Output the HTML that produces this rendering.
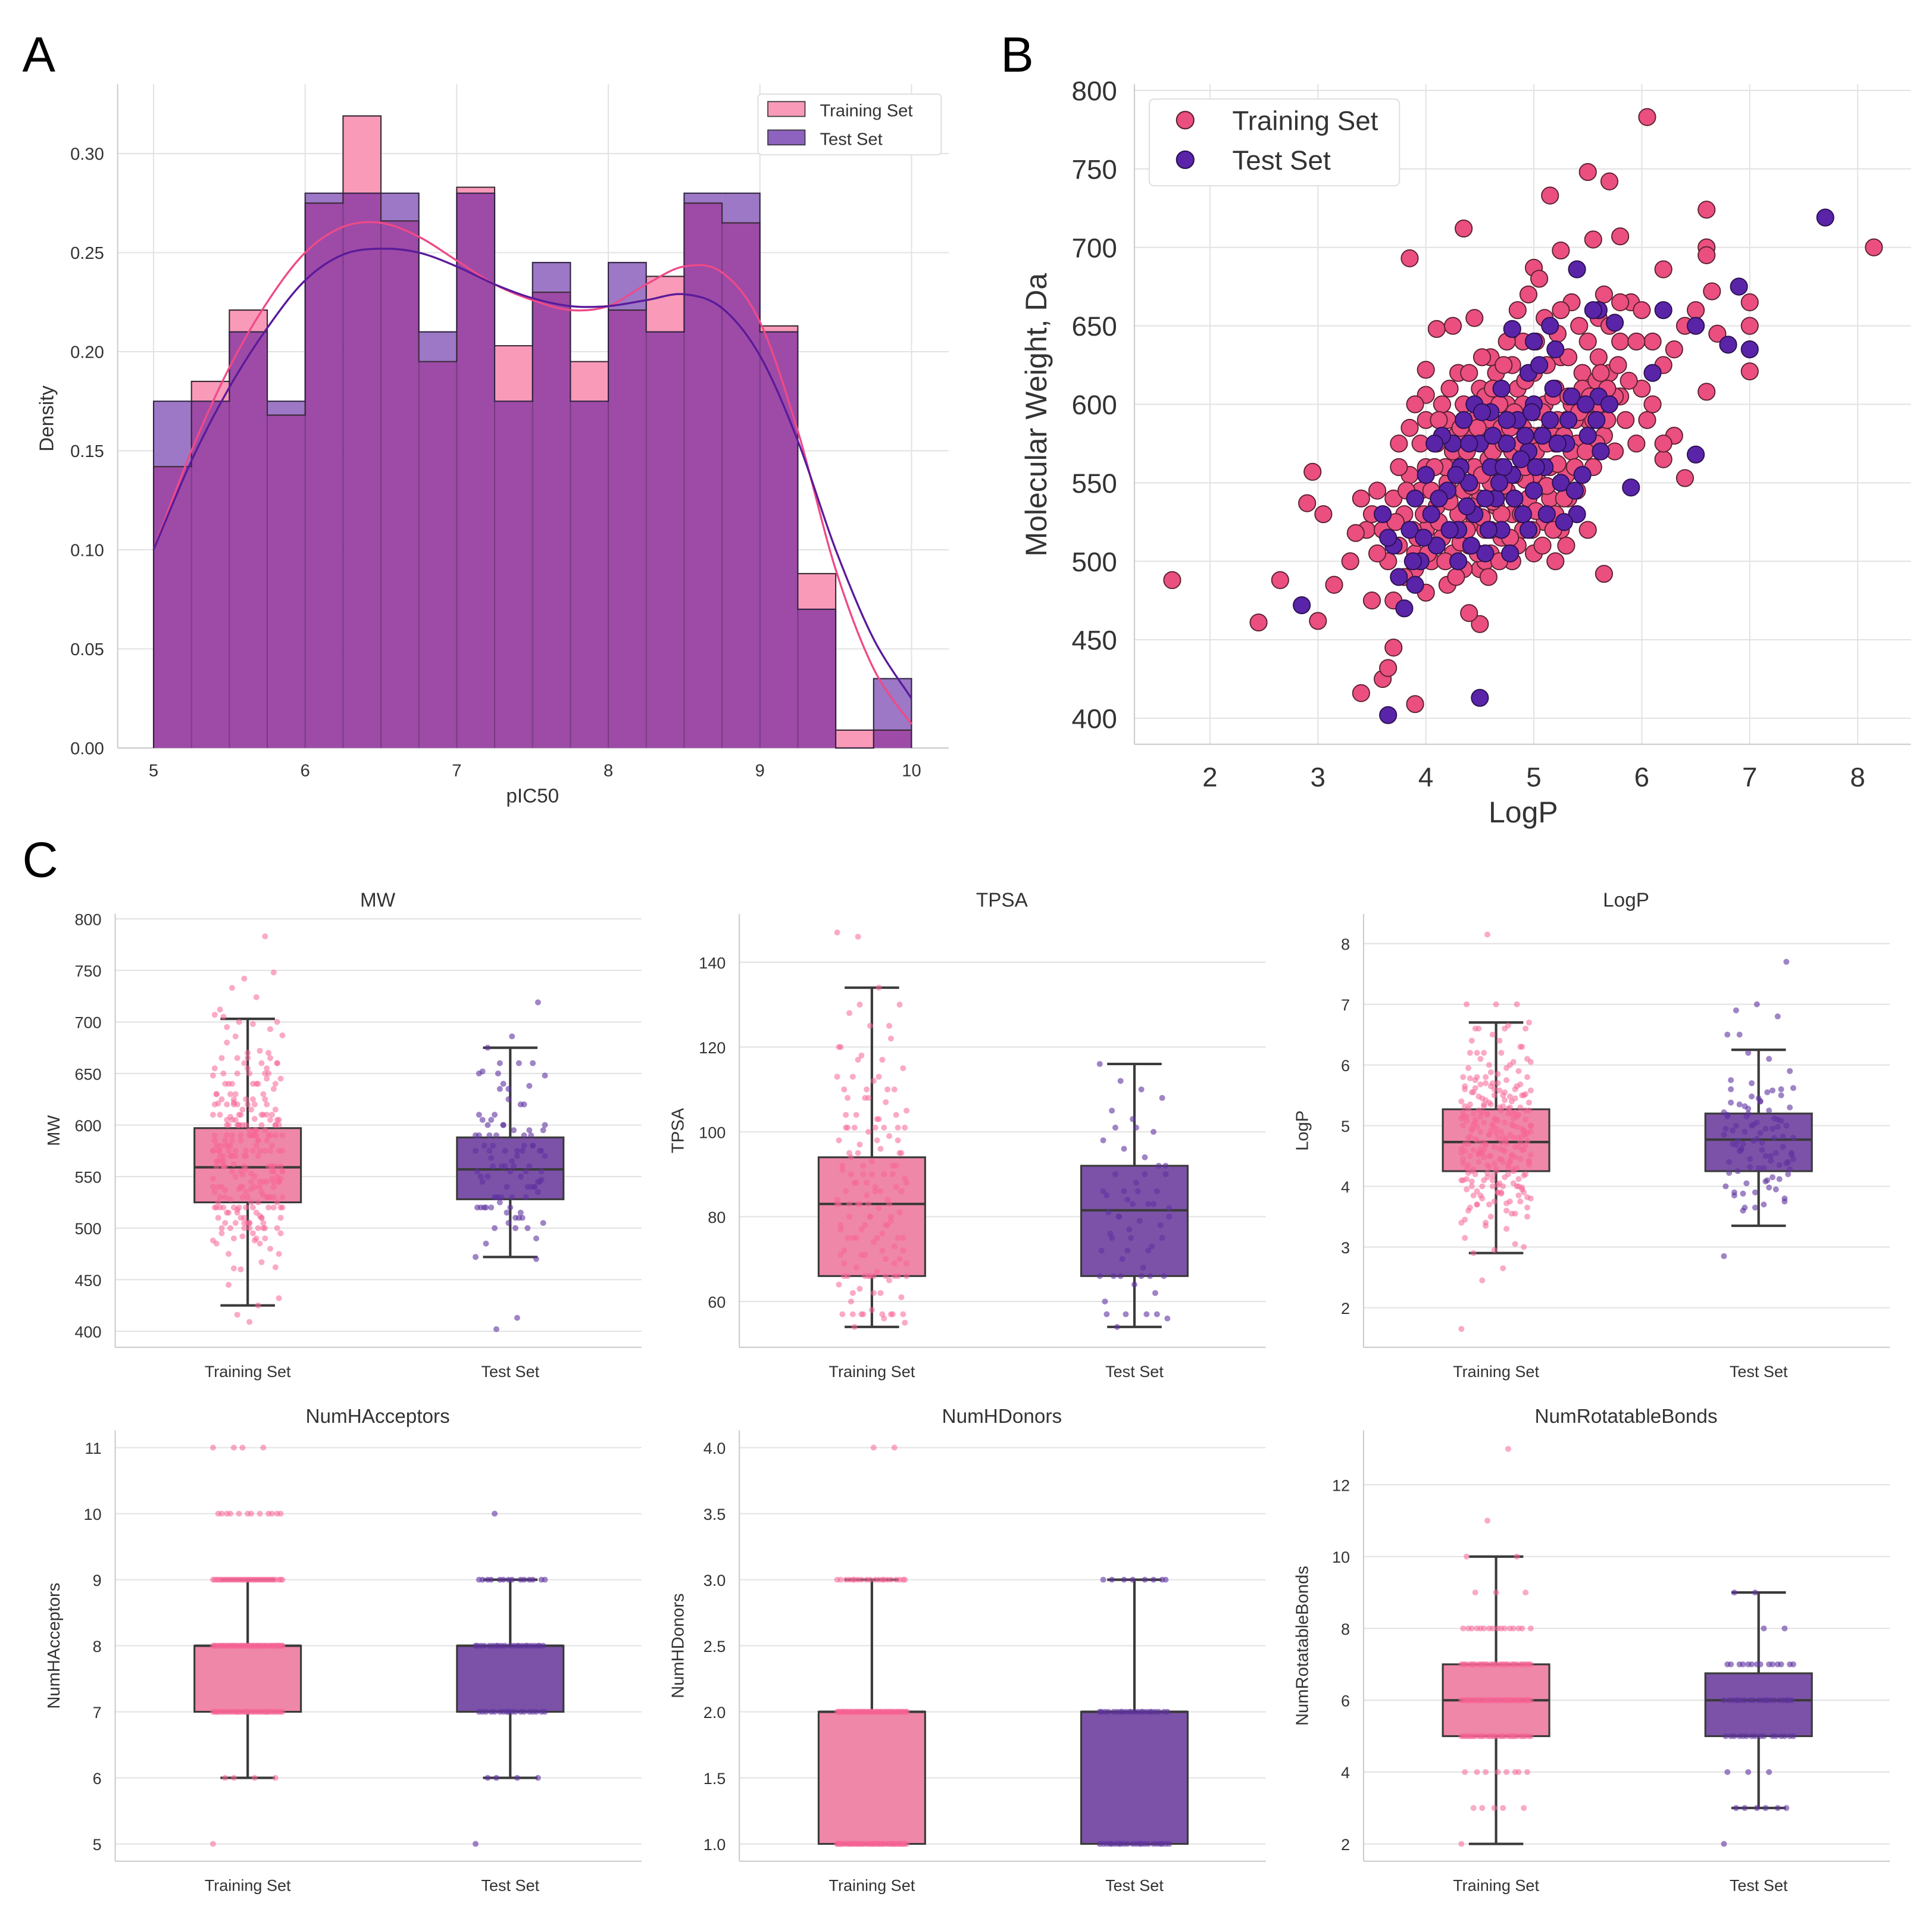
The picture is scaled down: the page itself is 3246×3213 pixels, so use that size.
<!DOCTYPE html>
<html><head><meta charset="utf-8">
<style>
html,body{margin:0;padding:0;background:#fff;}
svg{display:block;font-family:"Liberation Sans","DejaVu Sans",sans-serif;}
</style></head>
<body>
<svg id="fig" xmlns="http://www.w3.org/2000/svg" width="3246" height="3213" viewBox="0 0 1560 1544" preserveAspectRatio="none">
<rect x="0" y="0" width="1560" height="1544" fill="#fff"/>
<text x="18" y="58" font-size="40" fill="#000">A</text>
<text x="808" y="58" font-size="40" fill="#000">B</text>
<text x="18" y="708" font-size="40" fill="#000">C</text>
<g id="layer"></g>
</svg>
<script>
// ---------- Panel A data ----------
const binEdgesA = [5,5.25,5.5,5.75,6,6.25,6.5,6.75,7,7.25,7.5,7.75,8,8.25,8.5,8.75,9,9.25,9.5,9.75,10];
const trainDensity = [0.142,0.185,0.221,0.168,0.275,0.319,0.266,0.195,0.283,0.203,0.230,0.195,0.221,0.238,0.275,0.265,0.213,0.088,0.009,0.009];
const testDensity  = [0.175,0.175,0.210,0.175,0.280,0.280,0.280,0.210,0.280,0.175,0.245,0.175,0.245,0.210,0.280,0.280,0.210,0.070,0.000,0.035];
const kdeX = [5,5.25,5.5,5.75,6,6.25,6.5,6.75,7,7.25,7.5,7.75,8,8.25,8.5,8.75,9,9.25,9.5,9.75,10];
const kdeTrain = [0.100,0.150,0.192,0.225,0.250,0.263,0.265,0.258,0.246,0.234,0.226,0.221,0.223,0.234,0.243,0.240,0.215,0.160,0.090,0.040,0.012];
const kdeTest  = [0.100,0.145,0.182,0.212,0.236,0.249,0.252,0.250,0.243,0.234,0.227,0.223,0.223,0.226,0.229,0.222,0.198,0.155,0.100,0.055,0.025];
const ticksAx = [5,6,7,8,9,10];
const ticksAy = [0,0.05,0.10,0.15,0.20,0.25,0.30];

// ---------- Panel B data (LogP, MW) ----------
const trainPts = [[1.65,488],[2.45,461],[2.65,488],[3.0,462],[2.9,537],[2.95,557],[3.05,530],[3.15,485],[3.4,416],[3.6,425],[3.65,432],[3.7,445],[3.9,409],[3.85,693],[4.35,712],[4.5,460],[4.4,467],[5.0,687],[5.15,733],[5.25,698],[5.5,748],[5.55,705],[5.7,742],[6.05,783],[5.8,707],[6.2,686],[6.6,724],[6.6,700],[6.6,695],[7.0,665],[7.0,650],[7.0,621],[8.15,700],[6.65,672],[6.7,645],[6.6,608],[6.4,553],[6.3,580],[6.2,565],[5.65,492],[5.2,500],[4.1,648],[4.0,622],[4.0,606],[3.9,600],[3.85,585],[3.75,575],[3.55,545],[3.45,520],[3.35,518],[3.3,500],[3.5,475],[3.7,475],[3.9,505],[4.0,480],
[3.6,520],[3.7,540],[3.75,510],[3.8,530],[3.85,555],[3.9,495],[3.95,545],[4.0,520],[4.0,560],[4.05,500],[4.1,535],[4.1,575],[4.15,515],[4.2,550],[4.2,590],[4.25,505],[4.3,530],[4.3,565],[4.35,600],[4.35,545],[4.4,510],[4.4,580],[4.45,525],[4.45,560],[4.5,495],[4.5,540],[4.5,610],[4.55,575],[4.55,520],[4.6,550],[4.6,590],[4.6,505],[4.65,535],[4.65,620],[4.7,560],[4.7,515],[4.7,585],[4.75,545],[4.75,600],[4.8,500],[4.8,530],[4.8,570],[4.85,555],[4.85,610],[4.9,520],[4.9,585],[4.9,640],[4.95,540],[4.95,565],[5.0,505],[5.0,595],[5.0,620],[5.05,550],[5.05,580],[5.1,525],[5.1,600],[5.1,655],[5.15,560],[5.15,540],[5.2,610],[5.2,575],[5.25,520],[5.25,630],[5.3,590],[5.3,555],[5.35,665],[5.35,600],[5.4,545],[5.4,575],[5.45,620],[5.5,590],[5.5,640],[5.55,560],[5.6,600],[5.6,655],[5.65,580],[5.7,620],[5.75,570],[5.8,605],[5.8,640],[5.85,590],[5.9,665],[5.95,575],[6.0,610],[6.0,660],[6.05,590],[6.1,640],[6.2,625],[6.3,635],[6.4,650],[6.5,660],[4.25,650],[4.45,655],[4.6,630],[4.75,640],[4.85,660],[5.05,680],[4.3,620],[4.0,590],[3.95,575],[4.15,600],[4.2,485],[4.35,495],[4.55,500],[4.05,545],[3.75,560],[3.65,500],[3.5,530],[3.55,505],[3.4,540],[3.8,490],[4.4,620],[4.9,600],[5.2,530],[5.5,520],[5.45,610],[5.6,630],[5.8,665],[5.95,640],[6.1,600],[6.2,575],[5.7,650],[4.65,575],[4.7,530],[4.85,510],[5.3,510],[5.0,555],[4.55,605],[4.45,590],[4.6,520],[4.25,570],[4.1,510],[4.8,625],[5.15,585],[5.35,570],[5.55,590],[5.25,660],[5.75,605],[4.95,670],[5.65,670],
[4.12,525],[4.22,538],[4.32,512],[4.42,548],[4.52,528],[4.62,538],[4.72,548],[4.82,540],[4.92,552],[5.02,532],[5.12,548],[5.22,562],[5.32,540],[4.18,560],[4.28,580],[4.38,570],[4.48,585],[4.58,565],[4.68,600],[4.78,585],[4.88,575],[4.98,580],[5.08,595],[5.18,605],[5.28,580],[5.38,590],[5.48,600],[5.58,575],[5.68,590],[3.88,520],[3.98,530],[4.08,560],[4.18,500],[4.28,490],[4.38,520],[4.48,505],[4.58,490],[4.68,500],[4.78,515],[4.88,530],[4.98,520],[5.08,510],[5.18,520],[5.28,540],[5.38,560],[5.48,570],[5.58,615],[5.68,610],[5.78,625],[5.88,615],[4.52,630],[4.62,610],[4.72,625],[4.82,595],[4.92,615],[5.02,640],[5.12,625],[5.22,645],[5.32,630],[5.42,650],[3.72,525],[3.82,545],[3.92,515],[4.02,505],[4.12,590],[4.22,610],[4.32,585],[4.42,535],[4.52,555],[4.62,570],[4.72,575],[4.82,555],[4.92,560],[5.02,570],[5.12,575],[5.22,590],[5.32,605],[5.42,595],[5.52,605],[5.62,620]];
const testPts = [[2.85,472],[3.65,402],[4.5,413],[7.7,719],[6.9,675],[7.0,635],[6.8,638],[6.5,650],[6.2,660],[6.1,620],[5.9,547],[6.5,568],[5.4,686],[5.6,660],[5.75,652],[5.0,640],[4.95,620],[4.8,648],
[3.6,530],[3.7,510],[3.75,490],[3.85,520],[3.9,540],[3.95,500],[4.0,555],[4.05,530],[4.1,510],[4.2,545],[4.25,575],[4.3,520],[4.35,590],[4.4,550],[4.45,530],[4.5,575],[4.55,505],[4.6,560],[4.6,595],[4.65,540],[4.7,520],[4.75,575],[4.8,555],[4.85,590],[4.9,530],[4.95,570],[5.0,545],[5.0,600],[5.05,625],[5.1,560],[5.15,590],[5.2,635],[5.25,550],[5.3,575],[5.35,605],[5.4,530],[5.5,580],[5.6,605],[5.7,600],[4.15,580],[4.45,600],[4.7,610],[4.3,500],[3.8,470],[3.9,485],[3.65,515],[4.55,540],[4.95,520],[5.15,650],[5.55,660],[4.4,575],[4.75,590],[5.45,555],
[4.12,540],[4.22,520],[4.32,560],[4.42,510],[4.52,595],[4.62,580],[4.72,560],[4.82,540],[4.92,580],[5.02,560],[5.12,530],[5.22,575],[5.32,590],[4.08,575],[4.38,535],[4.68,550],[4.78,505],[4.98,595],[5.18,610],[5.28,525],[3.98,515],[4.28,555],[4.58,520],[4.88,565],[5.08,580],[5.38,545],[5.48,600],[5.58,590],[5.62,570],[3.88,500]];
const ticksBx = [2,3,4,5,6,7,8];
const ticksBy = [400,450,500,550,600,650,700,750,800];

// ---------- Panel C data ----------
const boxCategories = ["Training Set","Test Set"];
// [whiskerLow, q1, median, q3, whiskerHigh]
const statsMW = [[425,525,559,597,703],[472,528,557,588,675]];
const statsTPSA = [[54,66,83,94,134],[54,66,81.5,92,116]];
const statsLogP = [[2.9,4.25,4.73,5.27,6.7],[3.35,4.25,4.77,5.2,6.25]];
const statsHAcc = [[6,7,8,8,9],[6,7,8,8,9]];
const statsHDon = [[1,1,2,2,3],[1,1,2,2,3]];
const statsRotB = [[2,5,6,7,10],[3,5,6,6.75,9]];
const tpsaTrain = [147,146,134,130,128,125,122,120,118,117,115,113,112,110,110,108,107,105,104,103,101,101,100,99,98,97,96,95,94,93,92,91,90,90,89,88,87,87,86,85,84,83,83,82,81,80,80,79,78,77,76,75,75,74,73,72,71,70,69,68,67,66,66,66,65,64,63,62,61,60,58,57,57,57,56,55,54,86,92,101,88,78,84,95,103,70,83,66,57,77,
57,57,57,57,66,66,66,66,66,66,75,75,75,75,83,83,83,83,86,86,90,90,90,92,92,101,101,101,101,104,104,110,110,113,117,113,95,95,80,80,71,71,72,72,62,62,69,69,78,78,88,88,98,98,108,108,125,120,130];
const tpsaTest = [116,112,110,108,105,103,100,98,96,94,92,90,88,86,85,84,83,82,80,79,78,76,75,73,72,70,68,66,66,64,62,60,57,57,56,54,86,92,81,77,
66,66,66,66,75,75,83,83,86,86,90,90,101,101,57,57,72,72,80,80];
const haccValues = [5,6,7,8,9,10,11];
const haccTrainCounts = [1,4,45,60,40,12,4];
const haccTestCounts = [1,4,18,22,14,1,0];
const hdonValues = [1,2,3,4];
const hdonTrainCounts = [55,60,20,2];
const hdonTestCounts = [22,22,8,0];
const rotbValues = [2,3,4,5,6,7,8,9,10,11,13];
const rotbTrainCounts = [1,5,8,35,50,35,16,3,2,1,1];
const rotbTestCounts = [1,6,3,16,20,14,2,2,0,0,0];

// ---------- helpers ----------
const NS = "http://www.w3.org/2000/svg";
const layer = document.getElementById("layer");
function mk(tag, attrs, name, parent) {
  const el = document.createElementNS(NS, tag);
  for (const k in attrs) el.setAttribute(k, attrs[k]);
  
  
  (parent || layer).appendChild(el);
  return el;
}
function txt(x, y, s, size, name, opts) {
  const o = Object.assign({x: x, y: y, "font-size": size, fill: "#333", "text-anchor": "middle"}, opts || {});
  const t = mk("text", o, name);
  t.textContent = s;
  return t;
}
function scale(d0, d1, r0, r1) { return v => r0 + (v - d0) * (r1 - r0) / (d1 - d0); }
function smoothPath(pts) {
  let d = "M" + pts[0][0] + "," + pts[0][1];
  for (let i = 0; i < pts.length - 1; i++) {
    const p0 = pts[Math.max(0, i - 1)], p1 = pts[i], p2 = pts[i + 1], p3 = pts[Math.min(pts.length - 1, i + 2)];
    const c1x = p1[0] + (p2[0] - p0[0]) / 6, c1y = p1[1] + (p2[1] - p0[1]) / 6;
    const c2x = p2[0] - (p3[0] - p1[0]) / 6, c2y = p2[1] - (p3[1] - p1[1]) / 6;
    d += " C" + c1x + "," + c1y + " " + c2x + "," + c2y + " " + p2[0] + "," + p2[1];
  }
  return d;
}
function jit(i) { return ((i * 53) % 41) / 40 - 0.5; }

// ---------- Panel A ----------
(function () {
  const X = scale(5, 10, 124, 736), Y = scale(0, 0.30, 604, 124);
  const L = 95, R = 766, T = 68, B = 604;
  ticksAx.forEach(v => {
    mk("line", {x1: X(v), x2: X(v), y1: T, y2: B, stroke: "#e3e3e3", "stroke-width": 1}, "a-x-gridline");
    txt(X(v), 627, String(v), 14, "a-x-tick-label");
  });
  ticksAy.forEach(v => {
    mk("line", {x1: L, x2: R, y1: Y(v), y2: Y(v), stroke: "#e3e3e3", "stroke-width": 1}, "a-y-gridline");
    txt(84, Y(v) + 5, v.toFixed(2), 14, "a-y-tick-label", {"text-anchor": "end"});
  });
  mk("line", {x1: L, x2: L, y1: T, y2: B, stroke: "#ccc", "stroke-width": 1}, "a-y-axis-line");
  mk("line", {x1: L, x2: R, y1: B, y2: B, stroke: "#ccc", "stroke-width": 1}, "a-x-axis-line");
  for (let i = 0; i < trainDensity.length; i++) {
    const x0 = X(binEdgesA[i]), x1 = X(binEdgesA[i + 1]);
    const a = trainDensity[i], b = testDensity[i];
    const lo = Math.min(a, b), hi = Math.max(a, b);
    mk("rect", {x: x0, y: Y(lo), width: x1 - x0, height: Y(0) - Y(lo), fill: "#9d4ba6"}, "a-bar-overlap");
    if (hi > lo) mk("rect", {x: x0, y: Y(hi), width: x1 - x0, height: Y(lo) - Y(hi), fill: a > b ? "#f89ab8" : "#9c78c6"}, a > b ? "a-bar-training" : "a-bar-test");
  }
  function stepPath(vals) {
    let d = "M" + X(binEdgesA[0]) + "," + Y(0);
    vals.forEach((v, i) => { d += " L" + X(binEdgesA[i]) + "," + Y(v) + " L" + X(binEdgesA[i + 1]) + "," + Y(v); });
    d += " L" + X(binEdgesA[binEdgesA.length - 1]) + "," + Y(0);
    return d;
  }
  mk("path", {d: stepPath(trainDensity), fill: "none", stroke: "#3a2a35", "stroke-width": 1}, "a-training-outline");
  mk("path", {d: stepPath(testDensity), fill: "none", stroke: "#2e2340", "stroke-width": 1}, "a-test-outline");
  for (let i = 0; i < trainDensity.length; i++) {
    const x = X(binEdgesA[i]);
    mk("line", {x1: x, x2: x, y1: Y(0), y2: Y(Math.min(trainDensity[i], testDensity[i], i > 0 ? Math.max(trainDensity[i - 1], testDensity[i - 1]) : 1))}, "a-bin-divider").setAttribute("stroke", "rgba(50,20,60,0.35)");
  }
  mk("path", {d: smoothPath(kdeX.map((v, i) => [X(v), Y(kdeTrain[i])])), fill: "none", stroke: "#ee4a88", "stroke-width": 1.6}, "a-kde-training");
  mk("path", {d: smoothPath(kdeX.map((v, i) => [X(v), Y(kdeTest[i])])), fill: "none", stroke: "#5a1a9a", "stroke-width": 1.6}, "a-kde-test");
  txt(430, 648, "pIC50", 16, "a-x-axis-title");
  txt(43, 338, "Density", 16, "a-y-axis-title", {transform: "rotate(-90 43 338)"});
  mk("rect", {x: 612, y: 76, width: 148, height: 49, fill: "#fff", stroke: "#e0e0e0", rx: 3}, "a-legend");
  mk("rect", {x: 620, y: 82, width: 30, height: 12, fill: "#f89ab8", stroke: "#333", "stroke-width": 0.8}, "a-legend-swatch-training");
  mk("rect", {x: 620, y: 105, width: 30, height: 12, fill: "#8d63bf", stroke: "#333", "stroke-width": 0.8}, "a-legend-swatch-test");
  txt(662, 94, "Training Set", 14, "a-legend-label-training", {"text-anchor": "start"});
  txt(662, 117, "Test Set", 14, "a-legend-label-test", {"text-anchor": "start"});
})();

// ---------- Panel B ----------
(function () {
  const X = scale(2, 8, 977, 1500), Y = scale(400, 800, 580, 73);
  const L = 916, R = 1543, T = 68, B = 601;
  ticksBx.forEach(v => {
    mk("line", {x1: X(v), x2: X(v), y1: T, y2: B, stroke: "#e3e3e3"}, "b-x-gridline");
    txt(X(v), 635, String(v), 22, "b-x-tick-label");
  });
  ticksBy.forEach(v => {
    mk("line", {x1: L, x2: R, y1: Y(v), y2: Y(v), stroke: "#e3e3e3"}, "b-y-gridline");
    txt(902, Y(v) + 8, String(v), 22, "b-y-tick-label", {"text-anchor": "end"});
  });
  mk("line", {x1: L, x2: L, y1: T, y2: B, stroke: "#ccc"}, "b-y-axis-line");
  mk("line", {x1: L, x2: R, y1: B, y2: B, stroke: "#ccc"}, "b-x-axis-line");
  trainPts.forEach(p => mk("circle", {cx: X(p[0]), cy: Y(p[1]), r: 6.8, fill: "#ea4f80", stroke: "#5a2030", "stroke-width": 0.9}, "b-point-training"));
  testPts.forEach(p => mk("circle", {cx: X(p[0]), cy: Y(p[1]), r: 6.8, fill: "#5a24a8", stroke: "#2a1050", "stroke-width": 0.9}, "b-point-test"));
  txt(1230, 664, "LogP", 24, "b-x-axis-title");
  txt(845, 335, "Molecular Weight, Da", 24, "b-y-axis-title", {transform: "rotate(-90 845 335)"});
  mk("rect", {x: 928, y: 80, width: 202, height: 70, fill: "#fff", stroke: "#e0e0e0", rx: 4}, "b-legend");
  mk("circle", {cx: 957, cy: 97, r: 7, fill: "#ea4f80", stroke: "#5a2030"}, "b-legend-marker-training");
  mk("circle", {cx: 957, cy: 129, r: 7, fill: "#5a24a8", stroke: "#2a1050"}, "b-legend-marker-test");
  txt(995, 105, "Training Set", 22, "b-legend-label-training", {"text-anchor": "start"});
  txt(995, 137, "Test Set", 22, "b-legend-label-test", {"text-anchor": "start"});
})();

// ---------- Panel C ----------
function boxPanel(cfg) {
  const Y = scale(cfg.v0, cfg.v1, cfg.y0, cfg.y1);
  const L = cfg.L, R = cfg.L + 425, T = cfg.T, B = cfg.B;
  const centers = [L + 107, L + 319];
  cfg.ticks.forEach(v => {
    mk("line", {x1: L, x2: R, y1: Y(v), y2: Y(v), stroke: "#e3e3e3"}, cfg.key + "-y-gridline");
    txt(L - 11, Y(v) + 5, cfg.fmt ? v.toFixed(1) : String(v), 13, cfg.key + "-y-tick-label", {"text-anchor": "end"});
  });
  mk("line", {x1: L, x2: L, y1: T, y2: B, stroke: "#ccc"}, cfg.key + "-y-axis-line");
  mk("line", {x1: L, x2: R, y1: B, y2: B, stroke: "#ccc"}, cfg.key + "-x-axis-line");
  boxCategories.forEach((c, i) => txt(centers[i], B + 24, c, 13, cfg.key + "-x-tick-label"));
  txt(L + 212, T - 6, cfg.title, 16, cfg.key + "-title");
  txt(L - 45, (T + B) / 2, cfg.title, 14, cfg.key + "-y-axis-title", {transform: "rotate(-90 " + (L - 45) + " " + ((T + B) / 2) + ")"});
  const fills = ["#ef87a8", "#7c52a8"], dots = ["rgba(247,100,150,0.55)", "rgba(95,50,160,0.6)"];
  cfg.stats.forEach((s, i) => {
    const cx = centers[i], hw = 43, cw = 22;
    mk("line", {x1: cx, x2: cx, y1: Y(s[0]), y2: Y(s[1]), stroke: "#3a3a3a", "stroke-width": 2}, cfg.key + "-whisker-low");
    mk("line", {x1: cx, x2: cx, y1: Y(s[3]), y2: Y(s[4]), stroke: "#3a3a3a", "stroke-width": 2}, cfg.key + "-whisker-high");
    mk("line", {x1: cx - cw, x2: cx + cw, y1: Y(s[0]), y2: Y(s[0]), stroke: "#3a3a3a", "stroke-width": 2}, cfg.key + "-cap-low");
    mk("line", {x1: cx - cw, x2: cx + cw, y1: Y(s[4]), y2: Y(s[4]), stroke: "#3a3a3a", "stroke-width": 2}, cfg.key + "-cap-high");
    mk("rect", {x: cx - hw, y: Y(s[3]), width: 2 * hw, height: Math.max(1, Y(s[1]) - Y(s[3])), fill: fills[i], stroke: "#3a3a3a", "stroke-width": 1.5}, cfg.key + "-box-" + (i ? "test" : "training"));
    mk("line", {x1: cx - hw, x2: cx + hw, y1: Y(s[2]), y2: Y(s[2]), stroke: "#3a3a3a", "stroke-width": 2}, cfg.key + "-median");
    const vals = cfg.values[i];
    vals.forEach((v, j) => mk("circle", {cx: cx + jit(j) * 56, cy: Y(v), r: 2.4, fill: dots[i]}, cfg.key + "-strip-point"));
  });
}
function expand(values, counts) { const out = []; values.forEach((v, i) => { for (let k = 0; k < counts[i]; k++) out.push(v); }); return out; }

boxPanel({key: "mw", title: "MW", L: 93, T: 738, B: 1088, v0: 400, v1: 800, y0: 1075, y1: 742, ticks: [400,450,500,550,600,650,700,750,800], stats: statsMW, values: [trainPts.map(p => p[1]), testPts.map(p => p[1])]});
boxPanel({key: "tpsa", title: "TPSA", L: 597, T: 738, B: 1088, v0: 60, v1: 140, y0: 1051, y1: 777, ticks: [60,80,100,120,140], stats: statsTPSA, values: [tpsaTrain, tpsaTest]});
boxPanel({key: "logp", title: "LogP", L: 1101, T: 738, B: 1088, v0: 2, v1: 8, y0: 1056, y1: 762, ticks: [2,3,4,5,6,7,8], stats: statsLogP, values: [trainPts.map(p => p[0]), testPts.map(p => p[0])]});
boxPanel({key: "hacc", title: "NumHAcceptors", L: 93, T: 1155, B: 1503, v0: 5, v1: 11, y0: 1489, y1: 1169, ticks: [5,6,7,8,9,10,11], stats: statsHAcc, values: [expand(haccValues, haccTrainCounts), expand(haccValues, haccTestCounts)]});
boxPanel({key: "hdon", title: "NumHDonors", L: 597, T: 1155, B: 1503, v0: 1, v1: 4, y0: 1489, y1: 1169, ticks: [1,1.5,2,2.5,3,3.5,4], fmt: true, stats: statsHDon, values: [expand(hdonValues, hdonTrainCounts), expand(hdonValues, hdonTestCounts)]});
boxPanel({key: "rotb", title: "NumRotatableBonds", L: 1101, T: 1155, B: 1503, v0: 2, v1: 12, y0: 1489, y1: 1199, ticks: [2,4,6,8,10,12], stats: statsRotB, values: [expand(rotbValues, rotbTrainCounts), expand(rotbValues, rotbTestCounts)]});
</script>
</body></html>
